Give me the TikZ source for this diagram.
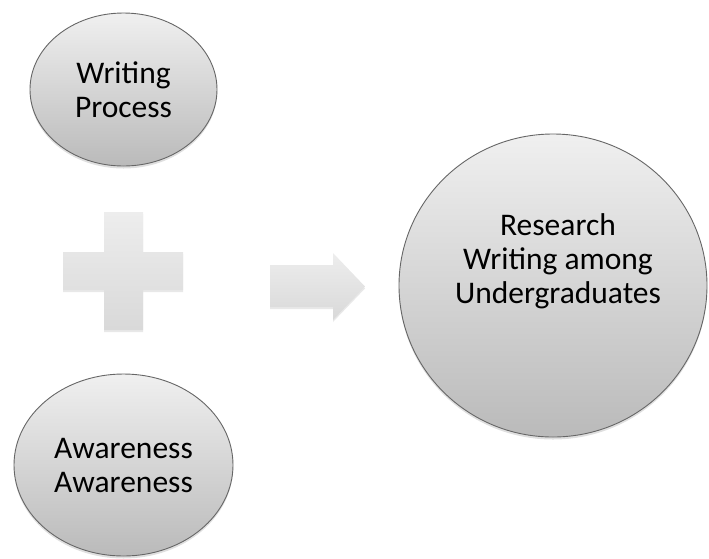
\documentclass[tikz,border=0pt]{standalone}
\usepackage{fontspec}
\setmainfont{Carlito}
\usetikzlibrary{shapes.geometric}
\usetikzlibrary{shadows}
\usetikzlibrary{positioning}

\tikzset{
  bubble/.style={ellipse, draw=black!60, line width=0.9pt, inner sep=0pt,
    top color=black!6, bottom color=black!27, align=center,
    font=\fontsize{31.5}{34}\selectfont,
    drop shadow={opacity=0.25, shadow xshift=0pt, shadow yshift=-2.5pt}},
  block/.style={top color=black!7, bottom color=black!15, draw=none,
    drop shadow={opacity=0.18, shadow xshift=0pt, shadow yshift=-2pt}},
  words/.style={align=center, inner sep=0pt, font=\fontsize{31.5}{34}\selectfont}
}

\begin{document}
\begin{tikzpicture}[x=1pt, y=-1pt, line join=round]
  \useasboundingbox (0,0) rectangle (709,558);
  %--- Writing Process
    \node[bubble, minimum width=187pt, minimum height=153pt] (process) at (123.5, 89.5) {Writing\\Process};
  %--- plus sign
    \path[block] (104,212) -- (143,212) -- (143,252) -- (183,252) -- (183,290) -- (143,290)
      -- (143,330) -- (104,330) -- (104,290) -- (63,290) -- (63,252) -- (104,252) -- cycle;
  %--- Awareness
    \node[bubble, minimum width=219pt, minimum height=182pt] (awareness) at (123.5, 465) {Awareness\\Awareness};
  %--- block arrow
    \path[block] (270,265) -- (333,265) -- (333,253) -- (365,286.5) -- (333,320) -- (333,307)
      -- (270,307) -- cycle;
  %--- Research Writing
    \node[bubble, minimum width=308pt, minimum height=303pt] (research) at (553, 285.5) {};
    \node[words] (researchtext) at (558, 261) {Research\\Writing among\\Undergraduates};
\end{tikzpicture}
\end{document}
